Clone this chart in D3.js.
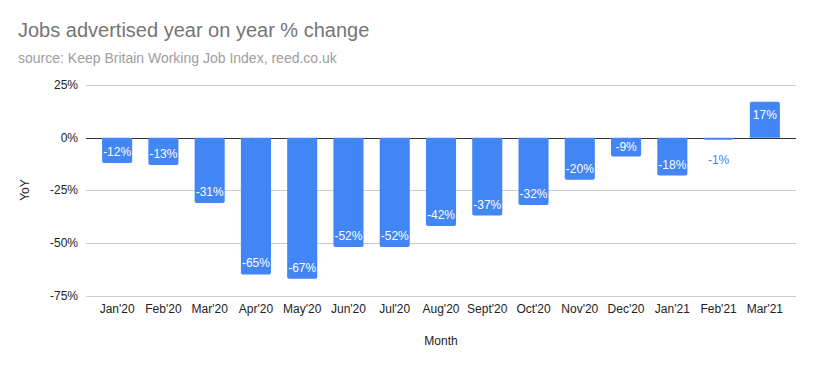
<!DOCTYPE html>
<html>
<head>
<meta charset="utf-8">
<script src="https://cdn.jsdelivr.net/npm/d3@7"></script>
<style>
  body { margin: 0; background: #fff; }
  text { font-family: Arial, "Liberation Sans", sans-serif; }
</style>
</head>
<body>
<svg width="815" height="366"></svg>
<script>
  const months = ["Jan'20", "Feb'20", "Mar'20", "Apr'20", "May'20", "Jun'20", "Jul'20", "Aug'20",
    "Sept'20", "Oct'20", "Nov'20", "Dec'20", "Jan'21", "Feb'21", "Mar'21"];
  const yoy = [-12, -13, -31, -65, -67, -52, -52, -42, -37, -32, -20, -9, -18, -1, 17];
  const yTicks = [25, 0, -25, -50, -75];

  const svg = d3.select('svg');
  const blue = '#4285f4';

  const x = d3.scaleBand().domain(months).range([94, 788]).paddingInner(0.35).paddingOuter(0.175);
  const y = d3.scaleLinear().domain([-75, 25]).range([295.5, 85]);

  svg.append('text')
      .attr('x', 18).attr('y', 37)
      .attr('font-size', 20).attr('fill', '#757575')
      .text('Jobs advertised year on year % change');
  svg.append('text')
      .attr('x', 18).attr('y', 63)
      .attr('font-size', 14).attr('fill', '#9e9e9e')
      .text('source: Keep Britain Working Job Index, reed.co.uk');

  // gridlines + y tick labels
  const grid = svg.append('g');
  grid.selectAll('line').data(yTicks).enter().append('line')
      .attr('x1', 86).attr('x2', 796)
      .attr('y1', d => Math.round(y(d)) + 0.5).attr('y2', d => Math.round(y(d)) + 0.5)
      .attr('stroke', d => d === 0 ? '#333' : '#ccc');
  grid.selectAll('text').data(yTicks).enter().append('text')
      .attr('x', 78).attr('y', d => y(d) + 4)
      .attr('text-anchor', 'end').attr('font-size', 12).attr('fill', '#222')
      .text(d => d + '%');

  // bars with rounded far end
  const r = 2;
  const barPath = d => {
    const x0 = x(d.m), w = x.bandwidth(), y0 = y(0), y1 = y(d.v);
    const s = d.v < 0 ? 1 : -1;
    const rr = Math.min(r, Math.abs(y1 - y0));
    return `M${x0},${y0}V${y1 - s * rr}Q${x0},${y1} ${x0 + rr},${y1}H${x0 + w - rr}Q${x0 + w},${y1} ${x0 + w},${y1 - s * rr}V${y0}Z`;
  };
  const data = months.map((m, i) => ({ m, v: yoy[i] }));

  svg.append('g').selectAll('path').data(data).enter().append('path')
      .attr('d', barPath)
      .attr('fill', blue);

  // value labels
  const inside = d => Math.abs(y(d.v) - y(0)) > 14;
  svg.append('g').selectAll('text').data(data).enter().append('text')
      .attr('x', d => x(d.m) + x.bandwidth() / 2)
      .attr('y', d => {
        const mid = (y(d.v) + y(0)) / 2;
        if (!inside(d)) return y(d.v) + 20 + 4;
        return d.v < 0 ? Math.max(y(d.v) - 11, mid) + 4 : Math.min(y(d.v) + 13, mid) + 4;
      })
      .attr('text-anchor', 'middle').attr('font-size', 12)
      .attr('fill', d => inside(d) ? '#fff' : blue)
      .text(d => d.v + '%');

  // x axis labels
  svg.append('g').selectAll('text').data(months).enter().append('text')
      .attr('x', d => x(d) + x.bandwidth() / 2)
      .attr('y', 313)
      .attr('text-anchor', 'middle').attr('font-size', 12).attr('fill', '#222')
      .text(d => d);

  svg.append('text')
      .attr('x', 441).attr('y', 345)
      .attr('text-anchor', 'middle').attr('font-size', 12).attr('fill', '#222')
      .text('Month');
  svg.append('text')
      .attr('transform', 'translate(29,190) rotate(-90)')
      .attr('text-anchor', 'middle').attr('font-size', 12).attr('fill', '#222')
      .text('YoY');
</script>
</body>
</html>
